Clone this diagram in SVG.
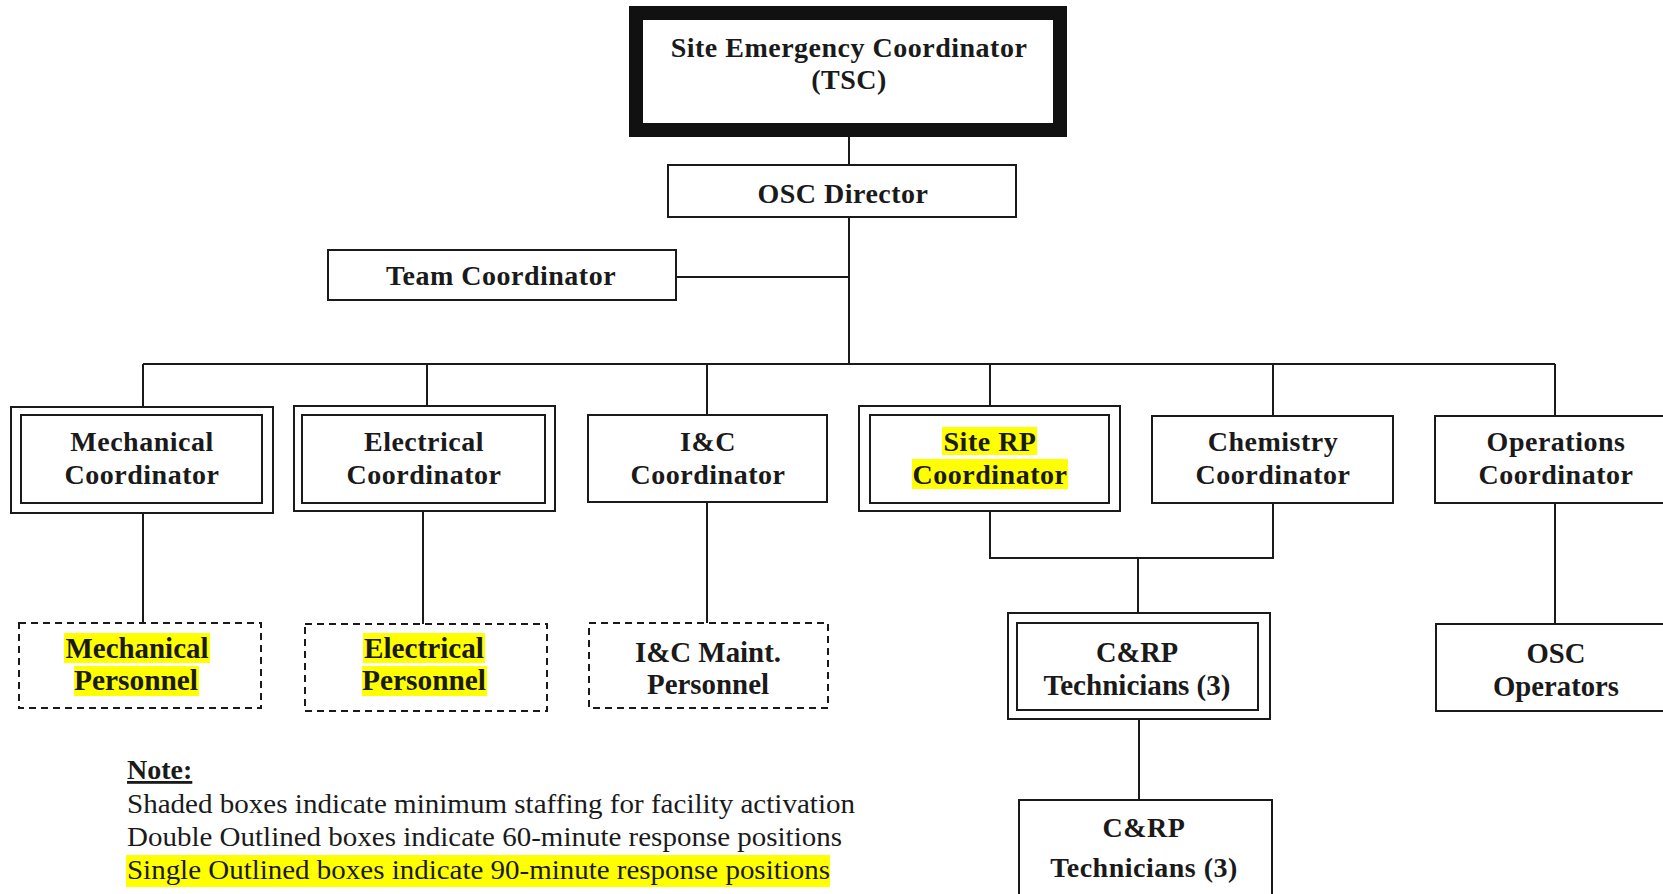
<svg xmlns="http://www.w3.org/2000/svg" width="1663" height="894" viewBox="0 0 1663 894">
<style>
.bx{fill:#fff;stroke:#1a1a1a;stroke-width:2}
.dx{fill:#fff;stroke:#1a1a1a;stroke-width:2;stroke-dasharray:7 5}
.ln{fill:none;stroke:#1a1a1a;stroke-width:2}
.t{font-family:"Liberation Serif","Times New Roman",serif;font-weight:bold;font-size:28px;letter-spacing:0.5px;fill:#1a1a1a;text-anchor:middle}
.c{font-family:"Liberation Serif","Times New Roman",serif;font-weight:bold;font-size:30px;fill:#1a1a1a;text-anchor:middle}
.n{font-family:"Liberation Serif","Times New Roman",serif;font-size:28px;fill:#1a1a1a}
.hl{fill:#ffff00}
</style>
<rect width="1663" height="894" fill="#fff"/>
<g id="connectors" class="ln">
<line x1="849" y1="137" x2="849" y2="364"/>
<line x1="676" y1="277" x2="849" y2="277"/>
<line x1="143" y1="364" x2="1555" y2="364"/>
<line x1="143" y1="364" x2="143" y2="407"/>
<line x1="427" y1="364" x2="427" y2="406"/>
<line x1="707" y1="364" x2="707" y2="415"/>
<line x1="990" y1="364" x2="990" y2="406"/>
<line x1="1273" y1="364" x2="1273" y2="416"/>
<line x1="1555" y1="364" x2="1555" y2="416"/>
<line x1="143" y1="513" x2="143" y2="623"/>
<line x1="423" y1="511" x2="423" y2="624"/>
<line x1="707" y1="502" x2="707" y2="623"/>
<polyline points="990,511 990,558 1273,558 1273,503"/>
<line x1="1138" y1="558" x2="1138" y2="613"/>
<line x1="1139" y1="719" x2="1139" y2="800"/>
<line x1="1555" y1="503" x2="1555" y2="624"/>
</g>
<g id="site-emergency-coordinator">
<rect x="636" y="13" width="424" height="117" fill="#fff" stroke="#111" stroke-width="14"/>
<text class="t" x="849" y="57">Site Emergency Coordinator</text>
<text class="t" x="849" y="89">(TSC)</text>
</g>
<g id="osc-director">
<rect class="bx" x="668" y="165" width="348" height="52"/>
<text class="t" x="843" y="203">OSC Director</text>
</g>
<g id="team-coordinator">
<rect class="bx" x="328" y="250" width="348" height="50"/>
<text class="t" x="501" y="285">Team Coordinator</text>
</g>
<g id="mechanical-coordinator">
<rect class="bx" x="11" y="407" width="262" height="106"/>
<rect class="bx" x="21" y="415" width="241" height="88"/>
<text class="t" x="142" y="451">Mechanical</text>
<text class="t" x="142" y="484">Coordinator</text>
</g>
<g id="electrical-coordinator">
<rect class="bx" x="294" y="406" width="261" height="105"/>
<rect class="bx" x="302" y="415" width="243" height="88"/>
<text class="t" x="424" y="451">Electrical</text>
<text class="t" x="424" y="484">Coordinator</text>
</g>
<g id="ic-coordinator">
<rect class="bx" x="588" y="415" width="239" height="87"/>
<text class="t" x="708" y="451">I&amp;C</text>
<text class="t" x="708" y="484">Coordinator</text>
</g>
<g id="site-rp-coordinator">
<rect class="bx" x="859" y="406" width="261" height="105"/>
<rect class="bx" x="870" y="415" width="239" height="88"/>
<rect class="hl" x="942" y="427" width="95" height="28"/>
<rect class="hl" x="912" y="459" width="156" height="30"/>
<text class="t" x="990" y="451">Site RP</text>
<text class="t" x="990" y="484">Coordinator</text>
</g>
<g id="chemistry-coordinator">
<rect class="bx" x="1152" y="416" width="241" height="87"/>
<text class="t" x="1273" y="451">Chemistry</text>
<text class="t" x="1273" y="484">Coordinator</text>
</g>
<g id="operations-coordinator">
<rect class="bx" x="1435" y="416" width="245" height="87"/>
<text class="t" x="1556" y="451">Operations</text>
<text class="t" x="1556" y="484">Coordinator</text>
</g>
<g id="mechanical-personnel">
<rect class="dx" x="19" y="623" width="242" height="85"/>
<rect class="hl" x="64" y="633" width="146" height="30"/>
<rect class="hl" x="74" y="666" width="125" height="30"/>
<text class="c" x="137" y="658" textLength="143" lengthAdjust="spacingAndGlyphs">Mechanical</text>
<text class="c" x="136" y="690" textLength="124" lengthAdjust="spacingAndGlyphs">Personnel</text>
</g>
<g id="electrical-personnel">
<rect class="dx" x="305" y="624" width="242" height="87"/>
<rect class="hl" x="363" y="633" width="122" height="30"/>
<rect class="hl" x="362" y="666" width="125" height="30"/>
<text class="c" x="424" y="658" textLength="120" lengthAdjust="spacingAndGlyphs">Electrical</text>
<text class="c" x="424" y="690" textLength="124" lengthAdjust="spacingAndGlyphs">Personnel</text>
</g>
<g id="ic-maint-personnel">
<rect class="dx" x="589" y="623" width="239" height="85"/>
<text class="c" x="708" y="662" textLength="146" lengthAdjust="spacingAndGlyphs">I&amp;C Maint.</text>
<text class="c" x="708" y="694" textLength="122" lengthAdjust="spacingAndGlyphs">Personnel</text>
</g>
<g id="crp-technicians-1">
<rect class="bx" x="1008" y="613" width="262" height="106"/>
<rect class="bx" x="1017" y="623" width="241" height="87"/>
<text class="c" x="1137" y="662" textLength="82" lengthAdjust="spacingAndGlyphs">C&amp;RP</text>
<text class="c" x="1137" y="695" textLength="187" lengthAdjust="spacingAndGlyphs">Technicians (3)</text>
</g>
<g id="osc-operators">
<rect class="bx" x="1436" y="624" width="244" height="87"/>
<text class="c" x="1556" y="663" textLength="59" lengthAdjust="spacingAndGlyphs">OSC</text>
<text class="c" x="1556" y="696" textLength="126" lengthAdjust="spacingAndGlyphs">Operators</text>
</g>
<g id="crp-technicians-2">
<rect class="bx" x="1019" y="800" width="253" height="110"/>
<text class="t" x="1144" y="837">C&amp;RP</text>
<text class="t" x="1144" y="877">Technicians (3)</text>
</g>
<g id="note">
<rect class="hl" x="126" y="855" width="704" height="32"/>
<text class="n" x="127" y="779" font-weight="bold" text-decoration="underline">Note:</text>
<text class="n" x="127" y="813" textLength="728" lengthAdjust="spacingAndGlyphs">Shaded boxes indicate minimum staffing for facility activation</text>
<text class="n" x="127" y="846" textLength="715" lengthAdjust="spacingAndGlyphs">Double Outlined boxes indicate 60-minute response positions</text>
<text class="n" x="127" y="879" textLength="703" lengthAdjust="spacingAndGlyphs">Single Outlined boxes indicate 90-minute response positions</text>
<text class="n" x="127" y="914" textLength="578" lengthAdjust="spacingAndGlyphs">Dashed Outlined boxes indicate call-able positions</text>
</g>
</svg>
